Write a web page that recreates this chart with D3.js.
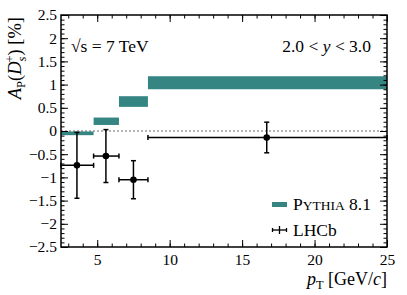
<!DOCTYPE html>
<html lang="en">
<head>
<meta charset="utf-8">
<title>Ds production asymmetry</title>
<script src="https://cdn.jsdelivr.net/npm/d3@7"></script>
<style>
  body { margin: 0; background: #fff; }
  svg text { font-family: "Liberation Serif", "Times New Roman", serif; fill: #000; }
</style>
</head>
<body>
<div id="chart"></div>
<script>
// LHCb measurement, pT bins [GeV/c]
var binLo  = [2.5, 4.75, 6.5, 8.5];
var binHi  = [4.75, 6.5, 8.5, 25];
var lhcbX  = [3.6, 5.6, 7.5, 16.7];
var lhcbY  = [-0.74, -0.54, -1.05, -0.14];
var lhcbErr = [0.71, 0.57, 0.41, 0.33];

// PYTHIA 8.1 band (low / high edge)
var pyLo = [-0.09, 0.13, 0.52, 0.90];
var pyHi = [-0.01, 0.29, 0.75, 1.18];

var xTicks = [5, 10, 15, 20, 25];
var yTicks = [-2.5, -2, -1.5, -1, -0.5, 0, 0.5, 1, 1.5, 2, 2.5];

var W = 407, H = 295;
var m = {left: 61, right: 20, top: 15, bottom: 48};
var iw = W - m.left - m.right, ih = H - m.top - m.bottom;
var teal = "#358683";

var svg = d3.select("#chart").append("svg")
    .attr("width", W).attr("height", H);
var g = svg.append("g").attr("transform", "translate(" + m.left + "," + m.top + ")");

var x = d3.scaleLinear().domain([2.5, 25]).range([0, iw]);
var y = d3.scaleLinear().domain([-2.5, 2.5]).range([ih, 0]);

var fmt = function(d) { return String(d).replace("-", "\u2212"); };

// pythia bands
g.selectAll("rect.py").data(d3.range(binLo.length)).enter().append("rect")
    .attr("class", "py")
    .attr("x", function(i) { return x(binLo[i]); })
    .attr("width", function(i) { return x(binHi[i]) - x(binLo[i]); })
    .attr("y", function(i) { return y(pyHi[i]); })
    .attr("height", function(i) { return y(pyLo[i]) - y(pyHi[i]); })
    .attr("fill", teal);

// zero line
g.append("line")
    .attr("x1", 0).attr("x2", iw).attr("y1", y(0)).attr("y2", y(0))
    .attr("stroke", "#444").attr("stroke-width", 0.8).attr("stroke-dasharray", "2,2");

// LHCb points
var pts = g.selectAll("g.pt").data(d3.range(lhcbX.length)).enter().append("g");
var cap = 2.5;
pts.append("line")
    .attr("x1", function(i) { return x(binLo[i]); }).attr("x2", function(i) { return x(binHi[i]); })
    .attr("y1", function(i) { return y(lhcbY[i]); }).attr("y2", function(i) { return y(lhcbY[i]); });
pts.append("line")
    .attr("x1", function(i) { return x(lhcbX[i]); }).attr("x2", function(i) { return x(lhcbX[i]); })
    .attr("y1", function(i) { return y(lhcbY[i] - lhcbErr[i]); })
    .attr("y2", function(i) { return y(lhcbY[i] + lhcbErr[i]); });
[-1, 1].forEach(function(s) {
  pts.append("line")
      .attr("x1", function(i) { return x(lhcbX[i]) - cap; }).attr("x2", function(i) { return x(lhcbX[i]) + cap; })
      .attr("y1", function(i) { return y(lhcbY[i] + s * lhcbErr[i]); })
      .attr("y2", function(i) { return y(lhcbY[i] + s * lhcbErr[i]); });
  pts.append("line")
      .attr("x1", function(i) { return x(s < 0 ? binLo[i] : binHi[i]); })
      .attr("x2", function(i) { return x(s < 0 ? binLo[i] : binHi[i]); })
      .attr("y1", function(i) { return y(lhcbY[i]) - cap; })
      .attr("y2", function(i) { return y(lhcbY[i]) + cap; });
});
pts.selectAll("line").attr("stroke", "#000").attr("stroke-width", 1.5);
pts.append("circle")
    .attr("cx", function(i) { return x(lhcbX[i]); })
    .attr("cy", function(i) { return y(lhcbY[i]); })
    .attr("r", 3.3).attr("fill", "#000");

// axes, ticks inside on all sides
function styleAxis(sel) {
  sel.select(".domain").remove();
  sel.selectAll("line").attr("stroke", "#000").attr("stroke-width", 1);
  sel.selectAll("text").style("font-size", "15.5px")
     .style("font-family", "'Liberation Serif', serif");
}
var minorX = d3.range(3, 25.01, 1);
var minorY = d3.range(-25, 26, 1).map(function(v) { return v / 10; });

g.append("g").attr("transform", "translate(0," + ih + ")")
  .call(d3.axisBottom(x).tickValues(xTicks).tickSize(-7).tickPadding(7).tickFormat(fmt))
  .call(styleAxis);
g.append("g").attr("transform", "translate(0," + ih + ")")
  .call(d3.axisBottom(x).tickValues(minorX).tickSize(-3.5).tickFormat("")).call(styleAxis);
g.append("g")
  .call(d3.axisTop(x).tickValues(xTicks).tickSize(-7).tickFormat("")).call(styleAxis);
g.append("g")
  .call(d3.axisTop(x).tickValues(minorX).tickSize(-3.5).tickFormat("")).call(styleAxis);

g.append("g")
  .call(d3.axisLeft(y).tickValues(yTicks).tickSize(-7).tickPadding(4).tickFormat(fmt))
  .call(styleAxis);
g.append("g")
  .call(d3.axisLeft(y).tickValues(minorY).tickSize(-3.5).tickFormat("")).call(styleAxis);
g.append("g").attr("transform", "translate(" + iw + ",0)")
  .call(d3.axisRight(y).tickValues(yTicks).tickSize(-7).tickFormat("")).call(styleAxis);
g.append("g").attr("transform", "translate(" + iw + ",0)")
  .call(d3.axisRight(y).tickValues(minorY).tickSize(-3.5).tickFormat("")).call(styleAxis);

g.append("rect").attr("width", iw).attr("height", ih)
    .attr("fill", "none").attr("stroke", "#000").attr("stroke-width", 1.5);

// axis titles
var yl = svg.append("text")
    .attr("transform", "translate(21," + (m.top + 2) + ") rotate(-90)")
    .attr("text-anchor", "end").style("font-size", "18.5px");
yl.append("tspan").style("font-style", "italic").text("A");
yl.append("tspan").attr("dy", 4).style("font-size", "12.5px").text("P");
yl.append("tspan").attr("dy", -4).text("(");
yl.append("tspan").style("font-style", "italic").text("D");
yl.append("tspan").attr("dy", 5).style("font-size", "12.5px").style("font-style", "italic").text("s");
yl.append("tspan").attr("dx", -6).attr("dy", -12).style("font-size", "12.5px").text("+");
yl.append("tspan").attr("dy", 7).text(") [%]");

var xl = svg.append("text")
    .attr("x", m.left + iw).attr("y", 285)
    .attr("text-anchor", "end").style("font-size", "18px");
xl.append("tspan").style("font-style", "italic").text("p");
xl.append("tspan").attr("dy", 4).style("font-size", "12.5px").text("T");
xl.append("tspan").attr("dy", -4).text(" [GeV/");
xl.append("tspan").style("font-style", "italic").text("c");
xl.append("tspan").text("]");

// annotations
var s1 = g.append("text").attr("x", 10).attr("y", 37).style("font-size", "17.5px");
s1.append("tspan").text("\u221As = 7 TeV");
var s2 = g.append("text").attr("x", iw - 16).attr("y", 37)
    .attr("text-anchor", "end").style("font-size", "17.5px");
s2.append("tspan").text("2.0 < ");
s2.append("tspan").style("font-style", "italic").text("y");
s2.append("tspan").text(" < 3.0");

// legend
var lg = g.append("g").attr("transform", "translate(211,0)");
lg.append("rect").attr("x", 0).attr("y", 187).attr("width", 15).attr("height", 5).attr("fill", teal);
var lt = lg.append("text").attr("x", 21).attr("y", 195).style("font-size", "17.5px");
lt.append("tspan").text("P");
lt.append("tspan").style("font-size", "13.5px").text("YTHIA");
lt.append("tspan").text(" 8.1");
var lc = lg.append("g").attr("transform", "translate(7.5,215)");
lc.append("line").attr("x1", -7).attr("x2", 7).attr("y1", 0).attr("y2", 0);
lc.append("line").attr("x1", 0).attr("x2", 0).attr("y1", -4).attr("y2", 4);
lc.append("line").attr("x1", -7).attr("x2", -7).attr("y1", -2).attr("y2", 2);
lc.append("line").attr("x1", 7).attr("x2", 7).attr("y1", -2).attr("y2", 2);
lc.selectAll("line").attr("stroke", "#000").attr("stroke-width", 1.3);
lg.append("text").attr("x", 21).attr("y", 221).style("font-size", "17.5px").text("LHCb");
</script>
</body>
</html>
